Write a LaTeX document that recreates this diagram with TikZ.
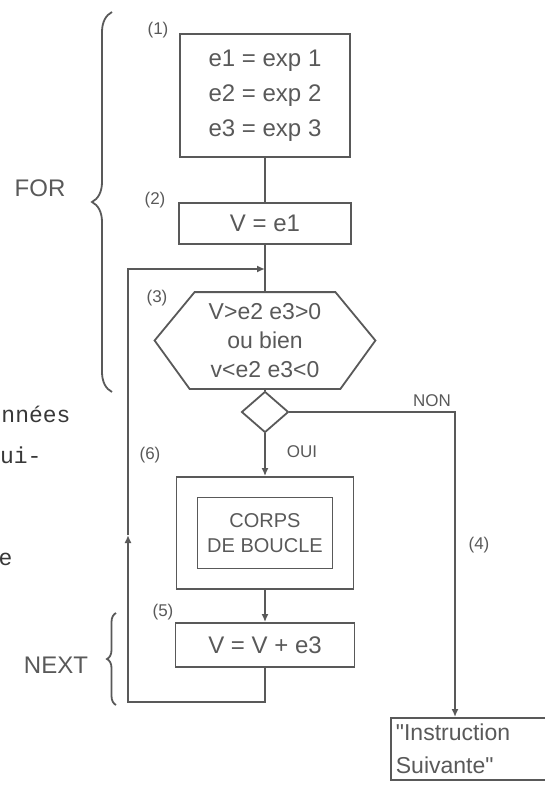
\documentclass[tikz,border=0pt]{standalone}
\usepackage{fontspec}
\setmainfont{Liberation Sans}
\newfontfamily\typedfont{Liberation Mono}
\usetikzlibrary{shapes.geometric,arrows.meta,decorations.pathreplacing}
\definecolor{ink}{gray}{0.35}
\definecolor{typed}{gray}{0.22}
\begin{document}
\begin{tikzpicture}[
  x=1pt, y=-1pt,
  box/.style={draw=ink, line width=1.8pt, inner sep=0pt, align=center, text=ink, font=\fontsize{24}{35}\selectfont},
  wire/.style={draw=ink, line width=1.8pt},
  tip/.style={-{Latex[length=8pt,width=7pt]}},
  tag/.style={text=ink, font=\fontsize{17}{19}\selectfont},
  side/.style={text=ink, font=\fontsize{24}{26}\selectfont},
  brc/.style={draw=ink, line width=1.8pt, decorate, decoration={brace, amplitude=#1}},
  frag/.style={anchor=base east, text=typed, font=\typedfont\fontsize{23}{25}\selectfont}
]
\useasboundingbox (0,0) rectangle (545,786);
\clip (0,0) rectangle (545,786);

% === Boxes ===
\node[box, minimum width=170pt, minimum height=123pt] (init) at (265,95.5) {e1 = exp 1\\e2 = exp 2\\e3 = exp 3};
\node[box, minimum width=172pt, minimum height=41pt] (start) at (265,223.5) {V = e1};
\coordinate (join) at (265,269);
\node[box, draw=none, minimum width=219pt, minimum height=95pt, font=\fontsize{23}{29}\selectfont] (test) at (265,340.5) {V>e2 e3>0\\ou bien\\v<e2 e3<0};
\draw[wire] (test.west) -- ([xshift=40pt]test.north west) -- ([xshift=-40pt]test.north east)
  -- (test.east) -- ([xshift=-35pt]test.south east) -- ([xshift=35pt]test.south west) -- cycle;
\node[diamond, draw=ink, line width=1.8pt, minimum width=47pt, minimum height=41pt, inner sep=0pt] (choice) at (265,412) {};
\node[box, minimum width=177pt, minimum height=112pt] (bodyout) at (265,533) {};
\node[box, minimum width=135pt, minimum height=71pt, font=\fontsize{20}{25}\selectfont] (body) at (265,533) {CORPS\\DE BOUCLE};
\node[box, minimum width=179pt, minimum height=44pt] (incr) at (265,645) {V = V + e3};
\node[box, anchor=north west, align=left, text width=160pt, inner xsep=5pt, inner ysep=6pt, font=\fontsize{23}{33}\selectfont] (next) at (390,717) {\textquotedbl Instruction\\Suivante\textquotedbl};

% === Connectors ===
\coordinate (back) at (128,702);
\coordinate (rise) at (128,535);
\coordinate (elbow) at (455,412);
\draw[wire] (init.south) -- (start.north);
\draw[wire] (start.south) -- (test.north);
\draw[wire] (test.south) -- (choice.north);
\draw[wire, tip] (choice.south) -- (bodyout.north);
\draw[wire, tip] (bodyout.south) -- (incr.north);
\draw[wire, tip] (incr.south) |- (back) -- (rise);
\draw[wire, tip] (rise) -- (back |- join) -- (join);
\draw[wire, tip] (choice.east) -- (elbow) -- (elbow |- next.north);

% === Labels ===
\node[tag] (l1) at (158,30) {(1)};
\node[tag] (l2) at (155,200) {(2)};
\node[tag] (l3) at (157,298) {(3)};
\node[tag] (l4) at (479,545) {(4)};
\node[tag] (l5) at (163,612) {(5)};
\node[tag] (l6) at (150,455) {(6)};
\node[tag] (oui) at (302,452) {OUI};
\node[tag] (non) at (432,401) {NON};

% === Braces ===
\draw[brc=20pt] (112,392) -- (112,12);
\node[side] (for) at (40,188) {FOR};
\draw[brc=9pt] (116,705) -- (116,613);
\node[side] (nxt) at (56,665) {NEXT};

% === Text beside the figure ===
\node[frag] (t1) at (74,422) {nnées};
\node[frag] (t2) at (45,463) {ui-};
\node[frag] (t3) at (16,565) {e};

\end{tikzpicture}
\end{document}
